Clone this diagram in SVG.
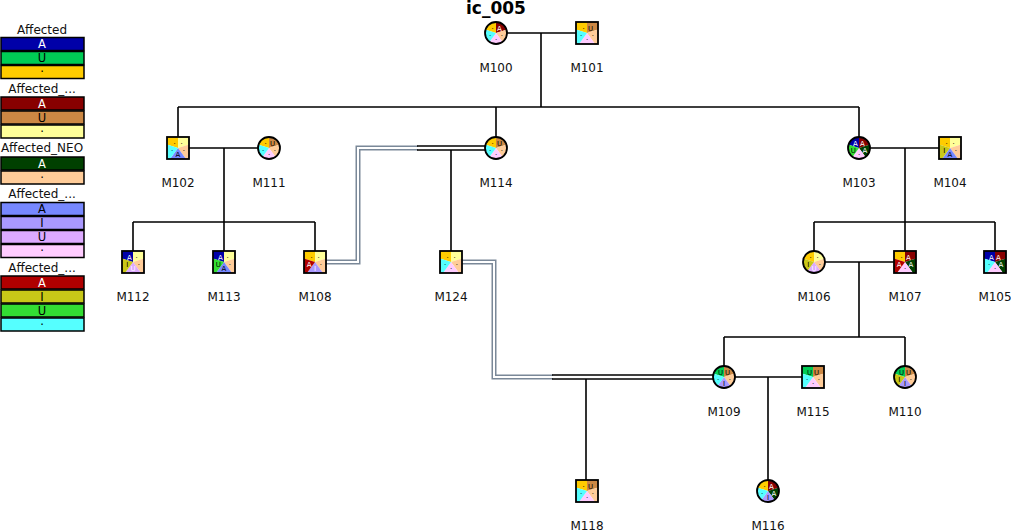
<svg xmlns="http://www.w3.org/2000/svg" xmlns:xlink="http://www.w3.org/1999/xlink" width="1011" height="530" viewBox="0 0 1011 530">
<style>
text{font-family:"DejaVu Sans","Liberation Sans",sans-serif;}
.ttl{font-size:17px;font-weight:bold;text-anchor:middle;fill:#000;}
.lbl{font-size:12px;text-anchor:middle;fill:#111;}
.lgt{font-size:12px;text-anchor:middle;fill:#111;}
.lgb{stroke:#000;stroke-width:1.5;}
.lgx{font-size:11.5px;text-anchor:middle;fill:#000;}
.st{font-size:7px;text-anchor:middle;fill:#000;}
.w{fill:#fff;}
.ln{stroke:#000;stroke-width:1.6;fill:none;}
.go{stroke:#7a8898;stroke-width:5;fill:none;}
.gi{stroke:#fff;stroke-width:2;fill:none;}
.ol{fill:none;stroke:#000;stroke-width:1.8;}
.a1A{fill:#0000a8}.a1U{fill:#00cc55}.a1D{fill:#ffcc00}
.a2A{fill:#880000}.a2U{fill:#cc8844}.a2D{fill:#ffff99}
.a3A{fill:#004000}.a3D{fill:#ffcc99}
.a4A{fill:#7788ff}.a4I{fill:#aa99ff}.a4U{fill:#ddaaff}.a4D{fill:#ffccff}
.a5A{fill:#b00000}.a5I{fill:#c8c818}.a5U{fill:#33dd33}.a5D{fill:#55ffff}
</style>
<defs>
<path id="s1" d="M0,0 L-15.217,-4.944 A16,16 0 0 1 0,-16 Z"/>
<path id="s2" d="M0,0 L0,-16 A16,16 0 0 1 15.217,-4.944 Z"/>
<path id="s3" d="M0,0 L15.217,-4.944 A16,16 0 0 1 9.405,12.944 Z"/>
<path id="s4" d="M0,0 L9.405,12.944 A16,16 0 0 1 -9.405,12.944 Z"/>
<path id="s5" d="M0,0 L-9.405,12.944 A16,16 0 0 1 -15.217,-4.944 Z"/>
<clipPath id="cc" clipPathUnits="userSpaceOnUse"><circle cx="0" cy="0" r="11"/></clipPath>
<clipPath id="cs" clipPathUnits="userSpaceOnUse"><rect x="-11" y="-11" width="22" height="22"/></clipPath>
</defs>

<text class="ttl" x="496" y="14">ic_005</text>

<g id="legend">
<g id="legend-affected">
<text class="lgt" x="42" y="34">Affected</text>
<rect class="lgb a1A" x="1" y="37.5" width="83" height="13"/><text class="lgx w" x="42" y="48.2">A</text>
<rect class="lgb a1U" x="1" y="51.5" width="83" height="13"/><text class="lgx" x="42" y="62.2">U</text>
<rect class="lgb a1D" x="1" y="65.5" width="83" height="13"/><text class="lgx" x="42" y="76.2">·</text>
</g>
<g id="legend-affected2">
<text class="lgt" x="42" y="93">Affected_...</text>
<rect class="lgb a2A" x="1" y="97" width="83" height="13"/><text class="lgx w" x="42" y="107.7">A</text>
<rect class="lgb a2U" x="1" y="111" width="83" height="13"/><text class="lgx" x="42" y="121.7">U</text>
<rect class="lgb a2D" x="1" y="125" width="83" height="13"/><text class="lgx" x="42" y="135.7">·</text>
</g>
<g id="legend-neo">
<text class="lgt" x="42" y="152">Affected_NEO</text>
<rect class="lgb a3A" x="1" y="157" width="83" height="13"/><text class="lgx w" x="42" y="167.7">A</text>
<rect class="lgb a3D" x="1" y="171" width="83" height="13"/><text class="lgx" x="42" y="181.7">·</text>
</g>
<g id="legend-affected4">
<text class="lgt" x="42" y="198">Affected_...</text>
<rect class="lgb a4A" x="1" y="202.5" width="83" height="13"/><text class="lgx" x="42" y="213.2">A</text>
<rect class="lgb a4I" x="1" y="216.5" width="83" height="13"/><text class="lgx" x="42" y="227.2">I</text>
<rect class="lgb a4U" x="1" y="230.5" width="83" height="13"/><text class="lgx" x="42" y="241.2">U</text>
<rect class="lgb a4D" x="1" y="244.5" width="83" height="13"/><text class="lgx" x="42" y="255.2">·</text>
</g>
<g id="legend-affected5">
<text class="lgt" x="42" y="272">Affected_...</text>
<rect class="lgb a5A" x="1" y="276" width="83" height="13"/><text class="lgx w" x="42" y="286.7">A</text>
<rect class="lgb a5I" x="1" y="290" width="83" height="13"/><text class="lgx" x="42" y="300.7">I</text>
<rect class="lgb a5U" x="1" y="304" width="83" height="13"/><text class="lgx" x="42" y="314.7">U</text>
<rect class="lgb a5D" x="1" y="318" width="83" height="13"/><text class="lgx" x="42" y="328.7">·</text>
</g>
</g>

<g id="connectors">
<path class="ln" d="M507,33 H576 M541,33 V107 M178,107 H859 M178,107 V137 M496,107 V137 M859,107 V137"/>
<path class="ln" d="M189,148 H258 M224,148 V222 M133,222 H315 M133,222 V251 M224,222 V251 M315,222 V251"/>
<path class="go" d="M326,262 H358 V148 H418"/>
<path class="gi" d="M326,262 H358 V148 H418"/>
<path class="ln" d="M417,146 H485 M417,150 H485 M451,150 V251"/>
<path class="ln" d="M870,148 H939 M905,148 V222 M814,222 H995 M814,222 V251 M905,222 V251 M995,222 V251"/>
<path class="ln" d="M825,262 H894 M859,262 V337 M724,337 H905 M724,337 V366 M905,337 V366"/>
<path class="go" d="M462,262 H494 V377 H553"/>
<path class="gi" d="M462,262 H494 V377 H553"/>
<path class="ln" d="M552,375 H713 M552,379 H713 M586,379 V480"/>
<path class="ln" d="M735,377 H802 M768,377 V480"/>
</g>

<g id="M100" transform="translate(496,33)">
<g clip-path="url(#cc)"><use href="#s1" class="a1D"/><use href="#s2" class="a2A"/><use href="#s3" class="a3D"/><use href="#s4" class="a4D"/><use href="#s5" class="a5D"/></g>
<circle class="ol" r="11"/>
<text class="st" x="-3.5" y="-2.5">·</text><text class="st w" x="3.5" y="-2.5">A</text><text class="st" x="5.8" y="4.5">·</text><text class="st" x="0" y="8.5">·</text><text class="st" x="-5.8" y="4.5">·</text>
<text class="lbl" x="0" y="39">M100</text>
</g>
<g id="M101" transform="translate(587,33)">
<g clip-path="url(#cs)"><use href="#s1" class="a1D"/><use href="#s2" class="a2U"/><use href="#s3" class="a3D"/><use href="#s4" class="a4D"/><use href="#s5" class="a5D"/></g>
<rect class="ol" x="-11" y="-11" width="22" height="22"/>
<text class="st" x="-3.5" y="-2.5">·</text><text class="st" x="3.5" y="-2.5">U</text><text class="st" x="5.8" y="4.5">·</text><text class="st" x="0" y="8.5">·</text><text class="st" x="-5.8" y="4.5">·</text>
<text class="lbl" x="0" y="39">M101</text>
</g>
<g id="M102" transform="translate(178,148)">
<g clip-path="url(#cs)"><use href="#s1" class="a1D"/><use href="#s2" class="a2D"/><use href="#s3" class="a3D"/><use href="#s4" class="a4A"/><use href="#s5" class="a5D"/></g>
<rect class="ol" x="-11" y="-11" width="22" height="22"/>
<text class="st" x="-3.5" y="-2.5">·</text><text class="st" x="3.5" y="-2.5">·</text><text class="st" x="5.8" y="4.5">·</text><text class="st" x="0" y="8.5">A</text><text class="st" x="-5.8" y="4.5">·</text>
<text class="lbl" x="0" y="39">M102</text>
</g>
<g id="M111" transform="translate(269,148)">
<g clip-path="url(#cc)"><use href="#s1" class="a1D"/><use href="#s2" class="a2U"/><use href="#s3" class="a3D"/><use href="#s4" class="a4D"/><use href="#s5" class="a5D"/></g>
<circle class="ol" r="11"/>
<text class="st" x="-3.5" y="-2.5">·</text><text class="st" x="3.5" y="-2.5">U</text><text class="st" x="5.8" y="4.5">·</text><text class="st" x="0" y="8.5">·</text><text class="st" x="-5.8" y="4.5">·</text>
<text class="lbl" x="0" y="39">M111</text>
</g>
<g id="M114" transform="translate(496,148)">
<g clip-path="url(#cc)"><use href="#s1" class="a1D"/><use href="#s2" class="a2U"/><use href="#s3" class="a3D"/><use href="#s4" class="a4D"/><use href="#s5" class="a5D"/></g>
<circle class="ol" r="11"/>
<text class="st" x="-3.5" y="-2.5">·</text><text class="st" x="3.5" y="-2.5">U</text><text class="st" x="5.8" y="4.5">·</text><text class="st" x="0" y="8.5">·</text><text class="st" x="-5.8" y="4.5">·</text>
<text class="lbl" x="0" y="39">M114</text>
</g>
<g id="M103" transform="translate(859,148)">
<g clip-path="url(#cc)"><use href="#s1" class="a1A"/><use href="#s2" class="a2A"/><use href="#s3" class="a3A"/><use href="#s4" class="a4D"/><use href="#s5" class="a5U"/></g>
<circle class="ol" r="11"/>
<text class="st w" x="-3.5" y="-2.5">A</text><text class="st w" x="3.5" y="-2.5">A</text><text class="st w" x="5.8" y="4.5">A</text><text class="st" x="0" y="8.5">·</text><text class="st" x="-5.8" y="4.5">U</text>
<text class="lbl" x="0" y="39">M103</text>
</g>
<g id="M104" transform="translate(950,148)">
<g clip-path="url(#cs)"><use href="#s1" class="a1D"/><use href="#s2" class="a2D"/><use href="#s3" class="a3D"/><use href="#s4" class="a4A"/><use href="#s5" class="a5I"/></g>
<rect class="ol" x="-11" y="-11" width="22" height="22"/>
<text class="st" x="-3.5" y="-2.5">·</text><text class="st" x="3.5" y="-2.5">·</text><text class="st" x="5.8" y="4.5">·</text><text class="st" x="0" y="8.5">A</text><text class="st" x="-5.8" y="4.5">I</text>
<text class="lbl" x="0" y="39">M104</text>
</g>
<g id="M112" transform="translate(133,262)">
<g clip-path="url(#cs)"><use href="#s1" class="a1A"/><use href="#s2" class="a2D"/><use href="#s3" class="a3D"/><use href="#s4" class="a4U"/><use href="#s5" class="a5I"/></g>
<rect class="ol" x="-11" y="-11" width="22" height="22"/>
<text class="st w" x="-3.5" y="-2.5">A</text><text class="st" x="3.5" y="-2.5">·</text><text class="st" x="5.8" y="4.5">·</text><text class="st w" x="0" y="8.5">U</text><text class="st" x="-5.8" y="4.5">I</text>
<text class="lbl" x="0" y="39">M112</text>
</g>
<g id="M113" transform="translate(224,262)">
<g clip-path="url(#cs)"><use href="#s1" class="a1A"/><use href="#s2" class="a2D"/><use href="#s3" class="a3D"/><use href="#s4" class="a4A"/><use href="#s5" class="a5U"/></g>
<rect class="ol" x="-11" y="-11" width="22" height="22"/>
<text class="st w" x="-3.5" y="-2.5">A</text><text class="st" x="3.5" y="-2.5">·</text><text class="st" x="5.8" y="4.5">·</text><text class="st" x="0" y="8.5">A</text><text class="st" x="-5.8" y="4.5">U</text>
<text class="lbl" x="0" y="39">M113</text>
</g>
<g id="M108" transform="translate(315,262)">
<g clip-path="url(#cs)"><use href="#s1" class="a1D"/><use href="#s2" class="a2D"/><use href="#s3" class="a3D"/><use href="#s4" class="a4I"/><use href="#s5" class="a5A"/></g>
<rect class="ol" x="-11" y="-11" width="22" height="22"/>
<text class="st" x="-3.5" y="-2.5">·</text><text class="st" x="3.5" y="-2.5">·</text><text class="st" x="5.8" y="4.5">·</text><text class="st w" x="0" y="8.5">I</text><text class="st w" x="-5.8" y="4.5">A</text>
<text class="lbl" x="0" y="39">M108</text>
</g>
<g id="M124" transform="translate(451,262)">
<g clip-path="url(#cs)"><use href="#s1" class="a1D"/><use href="#s2" class="a2D"/><use href="#s3" class="a3D"/><use href="#s4" class="a4D"/><use href="#s5" class="a5D"/></g>
<rect class="ol" x="-11" y="-11" width="22" height="22"/>
<text class="st" x="-3.5" y="-2.5">·</text><text class="st" x="3.5" y="-2.5">·</text><text class="st" x="5.8" y="4.5">·</text><text class="st" x="0" y="8.5">·</text><text class="st" x="-5.8" y="4.5">·</text>
<text class="lbl" x="0" y="39">M124</text>
</g>
<g id="M106" transform="translate(814,262)">
<g clip-path="url(#cc)"><use href="#s1" class="a1D"/><use href="#s2" class="a2D"/><use href="#s3" class="a3D"/><use href="#s4" class="a4U"/><use href="#s5" class="a5I"/></g>
<circle class="ol" r="11"/>
<text class="st" x="-3.5" y="-2.5">·</text><text class="st" x="3.5" y="-2.5">·</text><text class="st" x="5.8" y="4.5">·</text><text class="st w" x="0" y="8.5">U</text><text class="st" x="-5.8" y="4.5">I</text>
<text class="lbl" x="0" y="39">M106</text>
</g>
<g id="M107" transform="translate(905,262)">
<g clip-path="url(#cs)"><use href="#s1" class="a1D"/><use href="#s2" class="a2A"/><use href="#s3" class="a3A"/><use href="#s4" class="a4D"/><use href="#s5" class="a5A"/></g>
<rect class="ol" x="-11" y="-11" width="22" height="22"/>
<text class="st" x="-3.5" y="-2.5">·</text><text class="st w" x="3.5" y="-2.5">A</text><text class="st w" x="5.8" y="4.5">A</text><text class="st" x="0" y="8.5">·</text><text class="st w" x="-5.8" y="4.5">A</text>
<text class="lbl" x="0" y="39">M107</text>
</g>
<g id="M105" transform="translate(995,262)">
<g clip-path="url(#cs)"><use href="#s1" class="a1A"/><use href="#s2" class="a2A"/><use href="#s3" class="a3A"/><use href="#s4" class="a4D"/><use href="#s5" class="a5D"/></g>
<rect class="ol" x="-11" y="-11" width="22" height="22"/>
<text class="st w" x="-3.5" y="-2.5">A</text><text class="st w" x="3.5" y="-2.5">A</text><text class="st w" x="5.8" y="4.5">A</text><text class="st" x="0" y="8.5">·</text><text class="st" x="-5.8" y="4.5">·</text>
<text class="lbl" x="0" y="39">M105</text>
</g>
<g id="M109" transform="translate(724,377)">
<g clip-path="url(#cc)"><use href="#s1" class="a1U"/><use href="#s2" class="a2U"/><use href="#s3" class="a3D"/><use href="#s4" class="a4I"/><use href="#s5" class="a5D"/></g>
<circle class="ol" r="11"/>
<text class="st" x="-3.5" y="-2.5">U</text><text class="st" x="3.5" y="-2.5">U</text><text class="st" x="5.8" y="4.5">·</text><text class="st" x="0" y="8.5">I</text><text class="st" x="-5.8" y="4.5">·</text>
<text class="lbl" x="0" y="39">M109</text>
</g>
<g id="M115" transform="translate(813,377)">
<g clip-path="url(#cs)"><use href="#s1" class="a1U"/><use href="#s2" class="a2U"/><use href="#s3" class="a3D"/><use href="#s4" class="a4D"/><use href="#s5" class="a5D"/></g>
<rect class="ol" x="-11" y="-11" width="22" height="22"/>
<text class="st" x="-3.5" y="-2.5">U</text><text class="st" x="3.5" y="-2.5">U</text><text class="st" x="5.8" y="4.5">·</text><text class="st" x="0" y="8.5">·</text><text class="st" x="-5.8" y="4.5">·</text>
<text class="lbl" x="0" y="39">M115</text>
</g>
<g id="M110" transform="translate(905,377)">
<g clip-path="url(#cc)"><use href="#s1" class="a1U"/><use href="#s2" class="a2U"/><use href="#s3" class="a3D"/><use href="#s4" class="a4I"/><use href="#s5" class="a5I"/></g>
<circle class="ol" r="11"/>
<text class="st" x="-3.5" y="-2.5">U</text><text class="st" x="3.5" y="-2.5">U</text><text class="st" x="5.8" y="4.5">·</text><text class="st" x="0" y="8.5">I</text><text class="st" x="-5.8" y="4.5">I</text>
<text class="lbl" x="0" y="39">M110</text>
</g>
<g id="M118" transform="translate(587,491)">
<g clip-path="url(#cs)"><use href="#s1" class="a1D"/><use href="#s2" class="a2U"/><use href="#s3" class="a3D"/><use href="#s4" class="a4D"/><use href="#s5" class="a5D"/></g>
<rect class="ol" x="-11" y="-11" width="22" height="22"/>
<text class="st" x="-3.5" y="-2.5">·</text><text class="st" x="3.5" y="-2.5">U</text><text class="st" x="5.8" y="4.5">·</text><text class="st" x="0" y="8.5">·</text><text class="st" x="-5.8" y="4.5">·</text>
<text class="lbl" x="0" y="39">M118</text>
</g>
<g id="M116" transform="translate(768,491)">
<g clip-path="url(#cc)"><use href="#s1" class="a1D"/><use href="#s2" class="a2A"/><use href="#s3" class="a3A"/><use href="#s4" class="a4I"/><use href="#s5" class="a5D"/></g>
<circle class="ol" r="11"/>
<text class="st" x="-3.5" y="-2.5">·</text><text class="st w" x="3.5" y="-2.5">A</text><text class="st w" x="5.8" y="4.5">A</text><text class="st" x="0" y="8.5">I</text><text class="st" x="-5.8" y="4.5">·</text>
<text class="lbl" x="0" y="39">M116</text>
</g>
</svg>
